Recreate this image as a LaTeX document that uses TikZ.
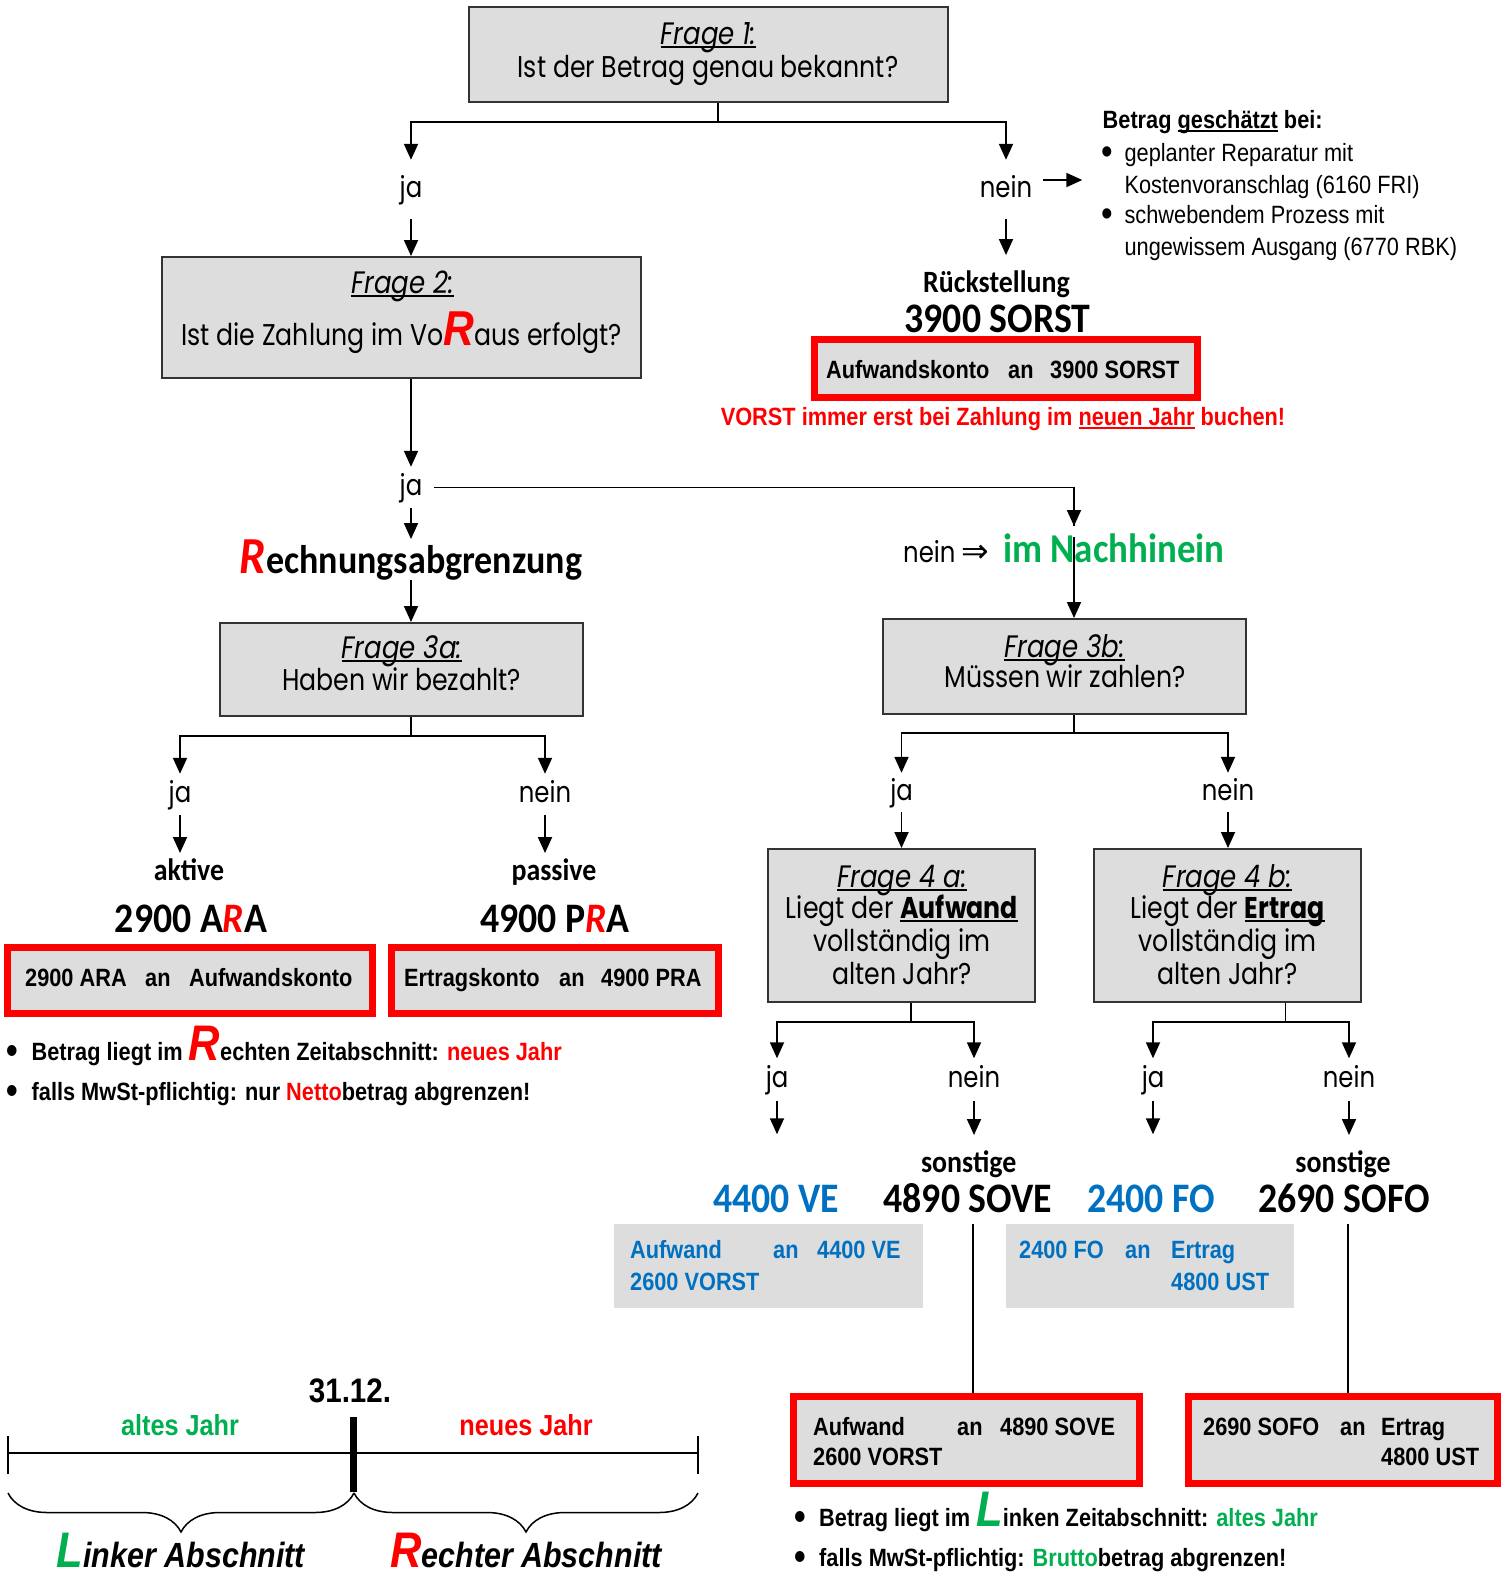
\documentclass[tikz,border=0pt]{standalone}
\usepackage{fontspec}
\usetikzlibrary{arrows.meta,decorations.pathreplacing}
\setmainfont{Liberation Sans}
\newfontfamily\gfont[FakeStretch=0.84]{Poppins}
\newfontfamily\nfont[FakeStretch=0.87]{Liberation Sans}
\newfontfamily\cfont[FakeStretch=0.9]{Carlito}
\newfontfamily\dvfont{DejaVu Sans}
\newcommand\fsz[1]{\fontsize{#1}{#1}\selectfont}
\newcommand\myul[1]{\setbox0\hbox{#1}\rlap{\rule[-3.5pt]{\wd0}{1.8pt}}\box0\relax}
\newcommand\bul{\raisebox{-3pt}{\fsz{38}•}}
\definecolor{rd}{HTML}{FF0000}
\definecolor{gr}{HTML}{00B050}
\definecolor{bl}{HTML}{0070C0}
\definecolor{bg}{HTML}{DDDDDD}
\definecolor{bd}{HTML}{333333}
\begin{document}
\begin{tikzpicture}[x=1pt,y=-1pt,
  q/.style={draw=bd,line width=2pt,fill=bg,inner sep=0pt},
  rbox/.style={draw=rd,line width=7pt,fill=bg,inner sep=0pt},
  gbox/.style={fill=bg,inner sep=0pt},
  gt/.style={font=\gfont\fsz{30},inner sep=0pt,anchor=base},
  lab/.style={font=\gfont\fsz{29},anchor=base,text height=21pt,text depth=6pt,inner xsep=0pt,inner ysep=#1},
  lab/.default=8pt,
  hd/.style={font=\cfont\bfseries\fsz{42},inner sep=0pt,anchor=base},
  sh/.style={font=\cfont\bfseries\fsz{31},inner sep=0pt,anchor=base},
  nt/.style={font=\nfont\bfseries\fsz{25},inner sep=0pt,anchor=base west},
  nr/.style={font=\nfont\fsz{25},inner sep=0pt,anchor=base west},
  ln/.style={line width=1.8pt},
  ar/.style={line width=1.8pt,-{Triangle[length=16pt,width=14pt]}},
  thin/.style={line width=1.5pt}]
\fill[white] (0,0) rectangle (1503,1575);
\useasboundingbox (0,0) rectangle (1503,1575);

% ---------- Frage 1
\node[q,minimum width=479,minimum height=95] (f1) at (708.5,54.5) {};
\node[gt,font=\gfont\fsz{31}] (f1t) at (708.5,44) {\myul{\itshape Frage 1:}};
\node[gt] (f1q) at (708,77) {Ist der Betrag genau bekannt?};
\coordinate (s1) at (718,121.7);
\draw[ln] (f1.south -| s1) -- (s1);
\node[lab=16pt] (ja1) at (411,197) {ja};
\node[lab=16pt] (nein1) at (1006,197) {nein};
\draw[ar] (s1) -| (ja1.north);
\draw[ar] (s1) -| (nein1.north);
\draw[ar] ([xshift=11pt,yshift=9.5pt]nein1.east) -- ++(39,0);

% list top right
\node[nt] (lh) at (1102.5,128) {Betrag \myul{geschätzt} bei:};
\node[nr] (lb1) at (1101,161) {\bul};
\node[nr] (l1) at (1124.4,161) {geplanter Reparatur mit};
\node[nr] (l2) at (1124.4,193) {Kostenvoranschlag (6160 FRI)};
\node[nr] (lb2) at (1101,223) {\bul};
\node[nr] (l3) at (1124.4,223) {schwebendem Prozess mit};
\node[nr] (l4) at (1124.4,255) {ungewissem Ausgang (6770 RBK)};

% Rueckstellung
\node[sh] (rueck) at (996.5,292) {Rückstellung};
\draw[ar,shorten >=15pt] (nein1.south) -- (nein1.south |- rueck.north);
\node[hd] (sorst) at (997.5,332) {3900 SORST};
\node[rbox,minimum width=383.4,minimum height=57.7] (rS) at (1005.8,368.35) {};
\node[nt] (rSa) at (826,378) {Aufwandskonto};
\node[nt] (rSb) at (1008,378) {an};
\node[nt] (rSc) at (1050,378) {3900 SORST};
\node[nt,anchor=base,text=rd] (vorst) at (1003,425) {VORST immer erst bei Zahlung im \myul{neuen Jahr} buchen!};

% ---------- Frage 2
\node[q,minimum width=479,minimum height=121] (f2) at (401.5,317.5) {};
\node[gt,font=\gfont\fsz{31}] (f2t) at (402.6,293) {\myul{\itshape Frage 2:}};
\node[gt] (f2q) at (401.8,345) {Ist die Zahlung im Vo{\color{rd}\nfont\bfseries\itshape\fsz{49}R}aus erfolgt?};
\draw[ar] (ja1.south) -- (ja1.south |- f2.north);
\node[lab=7pt,inner xsep=12pt] (ja2) at (411,495) {ja};
\draw[ar] (ja1.south |- f2.south) -- (ja2.north);
\coordinate (n1) at (1074,526);
\draw[ln] (ja2.east) -| (n1);
\draw[ar] (n1 |- ja2.east) -- (n1);
\node[gt,anchor=base west,font=\gfont\fsz{29}] (nn) at (903,562.7) {nein {\dvfont\fsz{33}⇒}};
\node[hd,anchor=base west,text=gr,font=\cfont\bfseries\fsz{41}] (nach) at (1003,562.7) {im Nachhinein};
\coordinate (n2) at (1074,537);

% ---------- Rechnungsabgrenzung
\node[hd,font=\cfont\bfseries\fsz{40}] (rech) at (411,573) {{\color{rd}\itshape\fsz{52}R}echnungsabgrenzung};
\draw[ar] (ja2.south) -- (rech.north);

% ---------- Frage 3a
\node[q,minimum width=363,minimum height=93] (f3a) at (401.5,669.5) {};
\draw[ar] (rech.south) -- (rech.south |- f3a.north);
\node[gt,font=\gfont\fsz{31}] (f3at) at (402,658) {\myul{\itshape Frage 3a:}};
\node[gt] (f3aq) at (401.6,690) {Haben wir bezahlt?};
\coordinate (s3a) at (411,736);
\draw[ln] (f3a.south -| s3a) -- (s3a);
\node[lab=7pt] (ja3) at (180,802) {ja};
\node[lab=7pt] (nein3) at (545,802) {nein};
\draw[ar] (s3a) -| (ja3.north);
\draw[ar] (s3a) -| (nein3.north);
\node[sh] (akt) at (189,880) {aktive};
\node[sh] (pas) at (554,880) {passive};
\draw[ar,shorten >=5pt] (ja3.south) -- (ja3.south |- akt.north);
\draw[ar,shorten >=5pt] (nein3.south) -- (nein3.south |- pas.north);
\node[hd] (ara) at (191,932) {2900 A{\color{rd}\itshape R}A};
\node[hd] (pra) at (555,932) {4900 P{\color{rd}\itshape R}A};
\node[rbox,minimum width=365,minimum height=66] (rA) at (190,980.5) {};
\node[rbox,minimum width=327,minimum height=66] (rP) at (555,980.5) {};
\node[nt] (rAa) at (25,986) {2900 ARA};
\node[nt] (rAb) at (145,986) {an};
\node[nt] (rAc) at (189,986) {Aufwandskonto};
\node[nt] (rPa) at (404,986) {Ertragskonto};
\node[nt] (rPb) at (559,986) {an};
\node[nt] (rPc) at (601,986) {4900 PRA};
\node[nt] (bl1) at (6,1060) {\bul};
\node[nt] (tl1) at (31.5,1060) {Betrag liegt im {\color{rd}\itshape\fsz{50}R}echten Zeitabschnitt: {\color{rd}neues Jahr}};
\node[nt] (bl2) at (6,1100.7) {\bul};
\node[nt] (tl2) at (31.5,1100.7) {falls MwSt-pflichtig: nur {\color{rd}Netto}betrag abgrenzen!};

% ---------- Frage 3b
\node[q,minimum width=363,minimum height=95] (f3b) at (1064.75,666.5) {};
\draw[ar] (n2) -- (n2 |- f3b.north);
\node[gt,font=\gfont\fsz{31}] (f3bt) at (1064.5,657) {\myul{\itshape Frage 3b:}};
\node[gt] (f3bq) at (1065,687) {Müssen wir zahlen?};
\coordinate (s3b) at (1074,733);
\draw[ln] (f3b.south -| s3b) -- (s3b);
\node[lab=6pt] (ja3b) at (901.5,800) {ja};
\node[lab=6pt] (nein3b) at (1228,800) {nein};
\draw[ar] (s3b) -| (ja3b.north);
\draw[ar] (s3b) -| (nein3b.north);

% ---------- Frage 4a / 4b
\node[q,minimum width=267,minimum height=153] (f4a) at (901.5,925.5) {};
\node[q,minimum width=267,minimum height=153] (f4b) at (1227.5,925.5) {};
\draw[ar] (ja3b.south) -- (ja3b.south |- f4a.north);
\draw[ar] (nein3b.south) -- (nein3b.south |- f4b.north);
\node[gt,font=\gfont\fsz{31}] (f4at) at (902,887) {\myul{\itshape Frage 4 a:}};
\node[gt] (f4aq1) at (902,918) {Liegt der \myul{\bfseries Aufwand}};
\node[gt] (f4aq2) at (902,951) {vollständig im};
\node[gt] (f4aq3) at (902,984) {alten Jahr?};
\node[gt,font=\gfont\fsz{31}] (f4bt) at (1227.5,887) {\myul{\itshape Frage 4 b:}};
\node[gt] (f4bq1) at (1227.5,918) {Liegt der \myul{\bfseries Ertrag}};
\node[gt] (f4bq2) at (1227.5,951) {vollständig im};
\node[gt] (f4bq3) at (1227.5,984) {alten Jahr?};

\coordinate (s4a) at (911,1022);
\coordinate (s4b) at (1285.5,1022);
\draw[ln] (f4a.south -| s4a) -- (s4a);
\draw[ln] (f4b.south -| s4b) -- (s4b);
\node[lab=7.5pt] (ja4a) at (777,1087) {ja};
\node[lab=7.5pt] (nein4a) at (974,1087) {nein};
\node[lab=7.5pt] (ja4b) at (1153,1087) {ja};
\node[lab=7.5pt] (nein4b) at (1349,1087) {nein};
\draw[ar] (s4a) -| (ja4a.north);
\draw[ar] (s4a) -| (nein4a.north);
\draw[ar] (s4b) -| (ja4b.north);
\draw[ar] (s4b) -| (nein4b.north);

\node[sh] (so1) at (968.7,1172) {sonstige};
\node[sh] (so2) at (1343,1172) {sonstige};
\node[hd,text=bl] (ve) at (776,1212) {4400 VE};
\node[hd] (sove) at (968,1212) {4890 SOVE};
\node[hd,text=bl] (fo) at (1151,1212) {2400 FO};
\node[hd] (sofo) at (1344,1212) {2690 SOFO};
\draw[ar,shorten >=50pt] (ja4a.south) -- (ja4a.south |- ve.north);
\draw[ar,shorten >=15pt] (nein4a.south) -- (nein4a.south |- so1.north);
\draw[ar,shorten >=50pt] (ja4b.south) -- (ja4b.south |- fo.north);
\draw[ar,shorten >=15pt] (nein4b.south) -- (nein4b.south |- so2.north);

% gray boxes
\node[gbox,minimum width=308.6,minimum height=84] (gVE) at (768.3,1266) {};
\node[gbox,minimum width=288,minimum height=84] (gFO) at (1150,1266) {};
\node[nt,text=bl] (gVa) at (630,1258) {Aufwand};
\node[nt,text=bl] (gVb) at (773,1258) {an};
\node[nt,text=bl] (gVc) at (817,1258) {4400 VE};
\node[nt,text=bl] (gVd) at (630,1290) {2600 VORST};
\node[nt,text=bl] (gFa) at (1019,1258) {2400 FO};
\node[nt,text=bl] (gFb) at (1125,1258) {an};
\node[nt,text=bl] (gFc) at (1171,1258) {Ertrag};
\node[nt,text=bl] (gFd) at (1171,1290) {4800 UST};

% red boxes bottom
\node[rbox,minimum width=346,minimum height=87] (rSV) at (966.5,1440) {};
\node[rbox,minimum width=309,minimum height=87] (rSF) at (1343,1440) {};
\coordinate (v1) at (973,1224);
\coordinate (v2) at (1348,1224);
\draw[thin] (v1) -- (v1 |- rSV.north);
\draw[thin] (v2) -- (v2 |- rSF.north);
\node[nt] (rVa) at (813,1435) {Aufwand};
\node[nt] (rVb) at (957,1435) {an};
\node[nt] (rVc) at (1000,1435) {4890 SOVE};
\node[nt] (rVd) at (813,1465) {2600 VORST};
\node[nt] (rFa) at (1203,1435) {2690 SOFO};
\node[nt] (rFb) at (1340,1435) {an};
\node[nt] (rFc) at (1381,1435) {Ertrag};
\node[nt] (rFd) at (1381,1465) {4800 UST};
\node[nt] (br1) at (794,1526) {\bul};
\node[nt] (tr1) at (819,1526) {Betrag liegt im {\color{gr}\itshape\fsz{50}L}inken Zeitabschnitt: {\color{gr}altes Jahr}};
\node[nt] (br2) at (794,1566) {\bul};
\node[nt] (tr2) at (819,1566) {falls MwSt-pflichtig: {\color{gr}Brutto}betrag abgrenzen!};

% ---------- timeline
\coordinate (tA) at (8,1453);
\coordinate (tB) at (698,1453);
\coordinate (tM) at (353,1453);
\draw[thin] (tA) -- (tB);
\draw[thin] (tA) ++(0,-17) -- ++(0,38);
\draw[thin] (tB) ++(0,-17) -- ++(0,38);
\draw[line width=7pt] (tM) ++(0,-36) -- ++(0,75);
\node[nt,anchor=base,font=\nfont\bfseries\fsz{34}] (d3112) at (350,1402) {31.12.};
\node[nt,anchor=base,font=\nfont\bfseries\fsz{29},text=gr] (alt) at (180,1435) {altes Jahr};
\node[nt,anchor=base,font=\nfont\bfseries\fsz{29},text=rd] (neu) at (526,1435) {neues Jahr};
\coordinate (bA) at (8,1493);
\coordinate (bM) at (354,1493);
\coordinate (bB) at (698,1493);
\draw[thin,decorate,decoration={brace,mirror,amplitude=39pt}] (bA) -- (bM);
\draw[thin,decorate,decoration={brace,mirror,amplitude=39pt}] (bM) -- (bB);
\node[nt,anchor=base,font=\nfont\bfseries\itshape\fsz{35}] (linker) at (181,1567) {{\color{gr}\fsz{50}L}inker Abschnitt};
\node[nt,anchor=base,font=\nfont\bfseries\itshape\fsz{35}] (rechter) at (526,1567) {{\color{rd}\fsz{50}R}echter Abschnitt};
\end{tikzpicture}
\end{document}
